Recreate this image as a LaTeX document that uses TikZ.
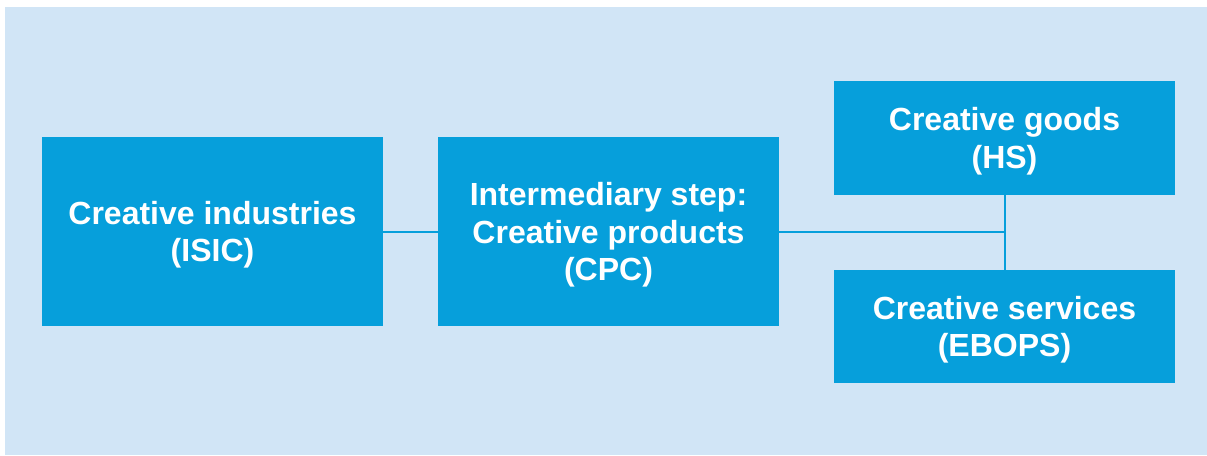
\documentclass[tikz,border=0pt]{standalone}
\usepackage{fontspec}
\setmainfont{Liberation Sans}
\usepackage{xcolor}
\usepackage{tikz}
\definecolor{panelblue}{RGB}{209, 229, 246}
\definecolor{boxblue}{RGB}{6, 159, 219}
\usetikzlibrary{positioning, calc}

\begin{document}
\begin{tikzpicture}[
    x=0.75pt, y=-0.75pt,
    bigbox/.style={rectangle, fill=boxblue, minimum width=255.75pt, minimum height=141.75pt, inner sep=0pt, text depth=0pt, align=center, text=white, font=\fontsize{24}{28}\selectfont\bfseries},
    smallbox/.style={bigbox, minimum height=85pt},
    link/.style={draw=boxblue, line width=1.5pt}
]
    % Canvas and panel
    \fill[white] (0,0) rectangle (1207,455);
    \fill[panelblue] (5,7) rectangle (1207,455);

    % Boxes
    \node[bigbox] (isic) at (212.5,231.5) {Creative industries\\(ISIC)};
    \node[bigbox] (cpc) at (608.5,231.5) {Intermediary step:\\Creative products\\(CPC)};
    \node[smallbox] (hs) at (1004.5,138) {Creative goods\\(HS)};
    \node[smallbox] (ebops) at (1004.5,326.5) {Creative services\\(EBOPS)};

    % Links
    \coordinate (joint) at (hs.south |- cpc.east);
    \draw[link] (isic.east) -- (cpc.west);
    \draw[link] (cpc.east) -- (joint);
    \draw[link] (hs.south) -- (ebops.north);
\end{tikzpicture}
\end{document}
